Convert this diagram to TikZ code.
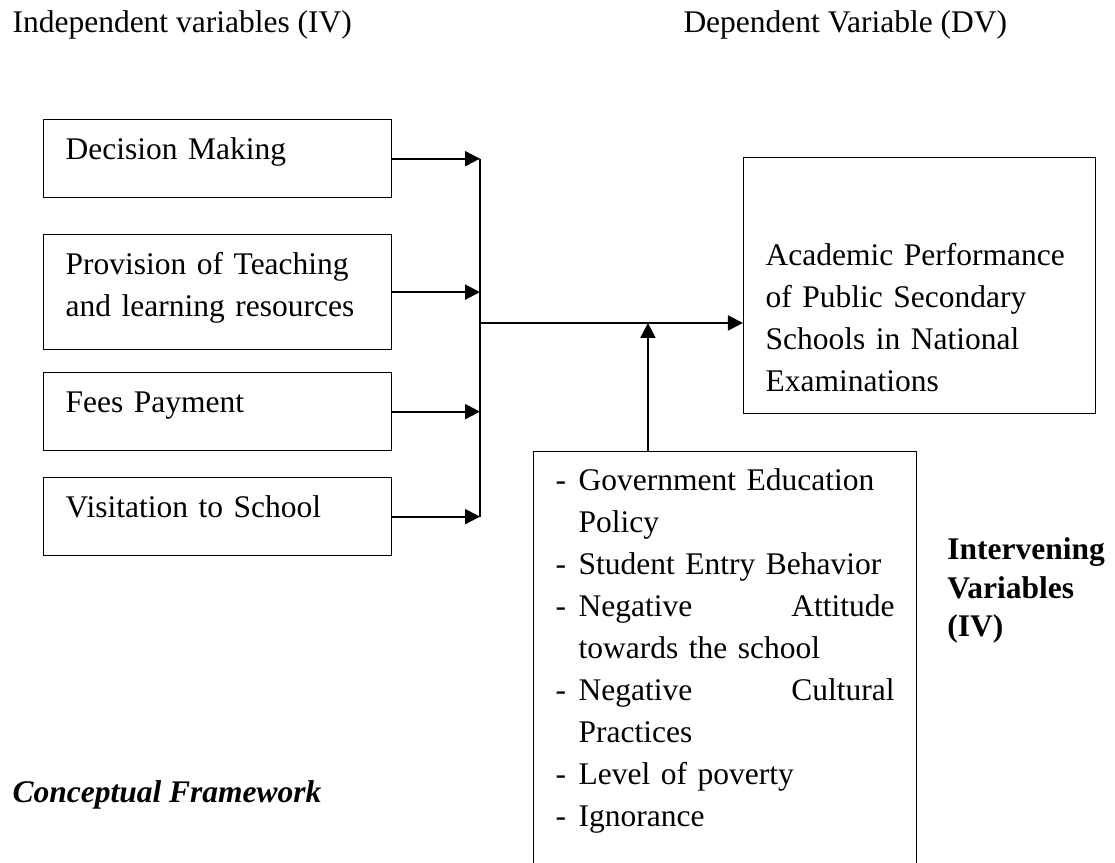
\documentclass[tikz,border=0pt]{standalone}
\usepackage{fontspec}
\setmainfont{Liberation Serif}
\usetikzlibrary{arrows.meta,calc}
\definecolor{fwink}{HTML}{000000}

% dash and hanging gap for the intervening list
\newcommand{\ivdash}{\makebox[0.308cm][l]{-}}
\newcommand{\ivgap}{\hspace*{0.308cm}}

\begin{document}
\begin{tikzpicture}[
  font=\fontsize{12}{16}\selectfont,
  varbox/.style={draw=fwink, line width=0.5pt, anchor=north west, align=left,
    inner xsep=0.295cm, inner ysep=0pt, text width=4.069cm, text height=0.536cm},
  dvbox/.style={varbox, text width=4.123cm, text height=1.446cm, text depth=1.982cm},
  ivbox/.style={varbox, text width=4.539cm, text height=0.522cm, text depth=5.22cm},
  flow/.style={draw=fwink, line width=0.8pt, -{Triangle[length=5.7pt,width=5.7pt]}},
  bus/.style={draw=fwink, line width=0.8pt},
  head/.style={anchor=base west, inner sep=0pt, text=fwink},
]
\useasboundingbox (0,0) rectangle (14.93,11.555);

% ===== headers =====
\node[head] (ivhead) at (0.161,11.113) {Independent variables (IV)};
\node[head] (dvhead) at (9.145,11.113) {Dependent Variable (DV)};

% ===== independent variables =====
\node[varbox, text depth=0.509cm] (dm) at (0.576,9.961) {Decision Making};
\node[varbox, text depth=1.004cm] (tl) at (0.576,8.422) {Provision of Teaching\\and learning resources};
\node[varbox, text depth=0.509cm] (fees) at (0.576,6.574) {Fees Payment};
\node[varbox, text depth=0.509cm] (visit) at (0.576,5.168) {Visitation to School};

% ===== dependent variable =====
\node[dvbox] (perf) at (9.948,9.453)
  {Academic Performance\\of Public Secondary\\Schools in National\\Examinations};

% ===== intervening variables =====
\node[ivbox] (intv) at (7.136,5.516) {%
  \ivdash Government Education\\
  \ivgap Policy\\
  \ivdash Student Entry Behavior\\
  \ivdash Negative\hfill Attitude\\
  \ivgap towards the school\\
  \ivdash Negative\hfill Cultural\\
  \ivgap Practices\\
  \ivdash Level of poverty\\
  \ivdash Ignorance};
% base sits on the last line here
\node[head, align=left, font=\fontsize{12}{14.7}\selectfont\bfseries] (ivlabel) at (12.679,3.026)
  {Intervening\\Variables\\(IV)};

% ===== connectors =====
\coordinate (bus) at (6.427,7.230);
\coordinate (join) at (8.676,7.230);
\foreach \n in {dm,tl,fees,visit}
  \draw[flow] (\n.east) -- (\n.east -| bus);
\draw[bus] (dm.east -| bus) -- (visit.east -| bus);
\draw[flow] (bus) -- (bus -| perf.west);
\draw[flow] (join |- intv.north) -- (join);

% ===== caption =====
\node[head, font=\fontsize{12}{16}\selectfont\bfseries\itshape] (cf) at (0.161,0.803) {Conceptual Framework};

\end{tikzpicture}
\end{document}
